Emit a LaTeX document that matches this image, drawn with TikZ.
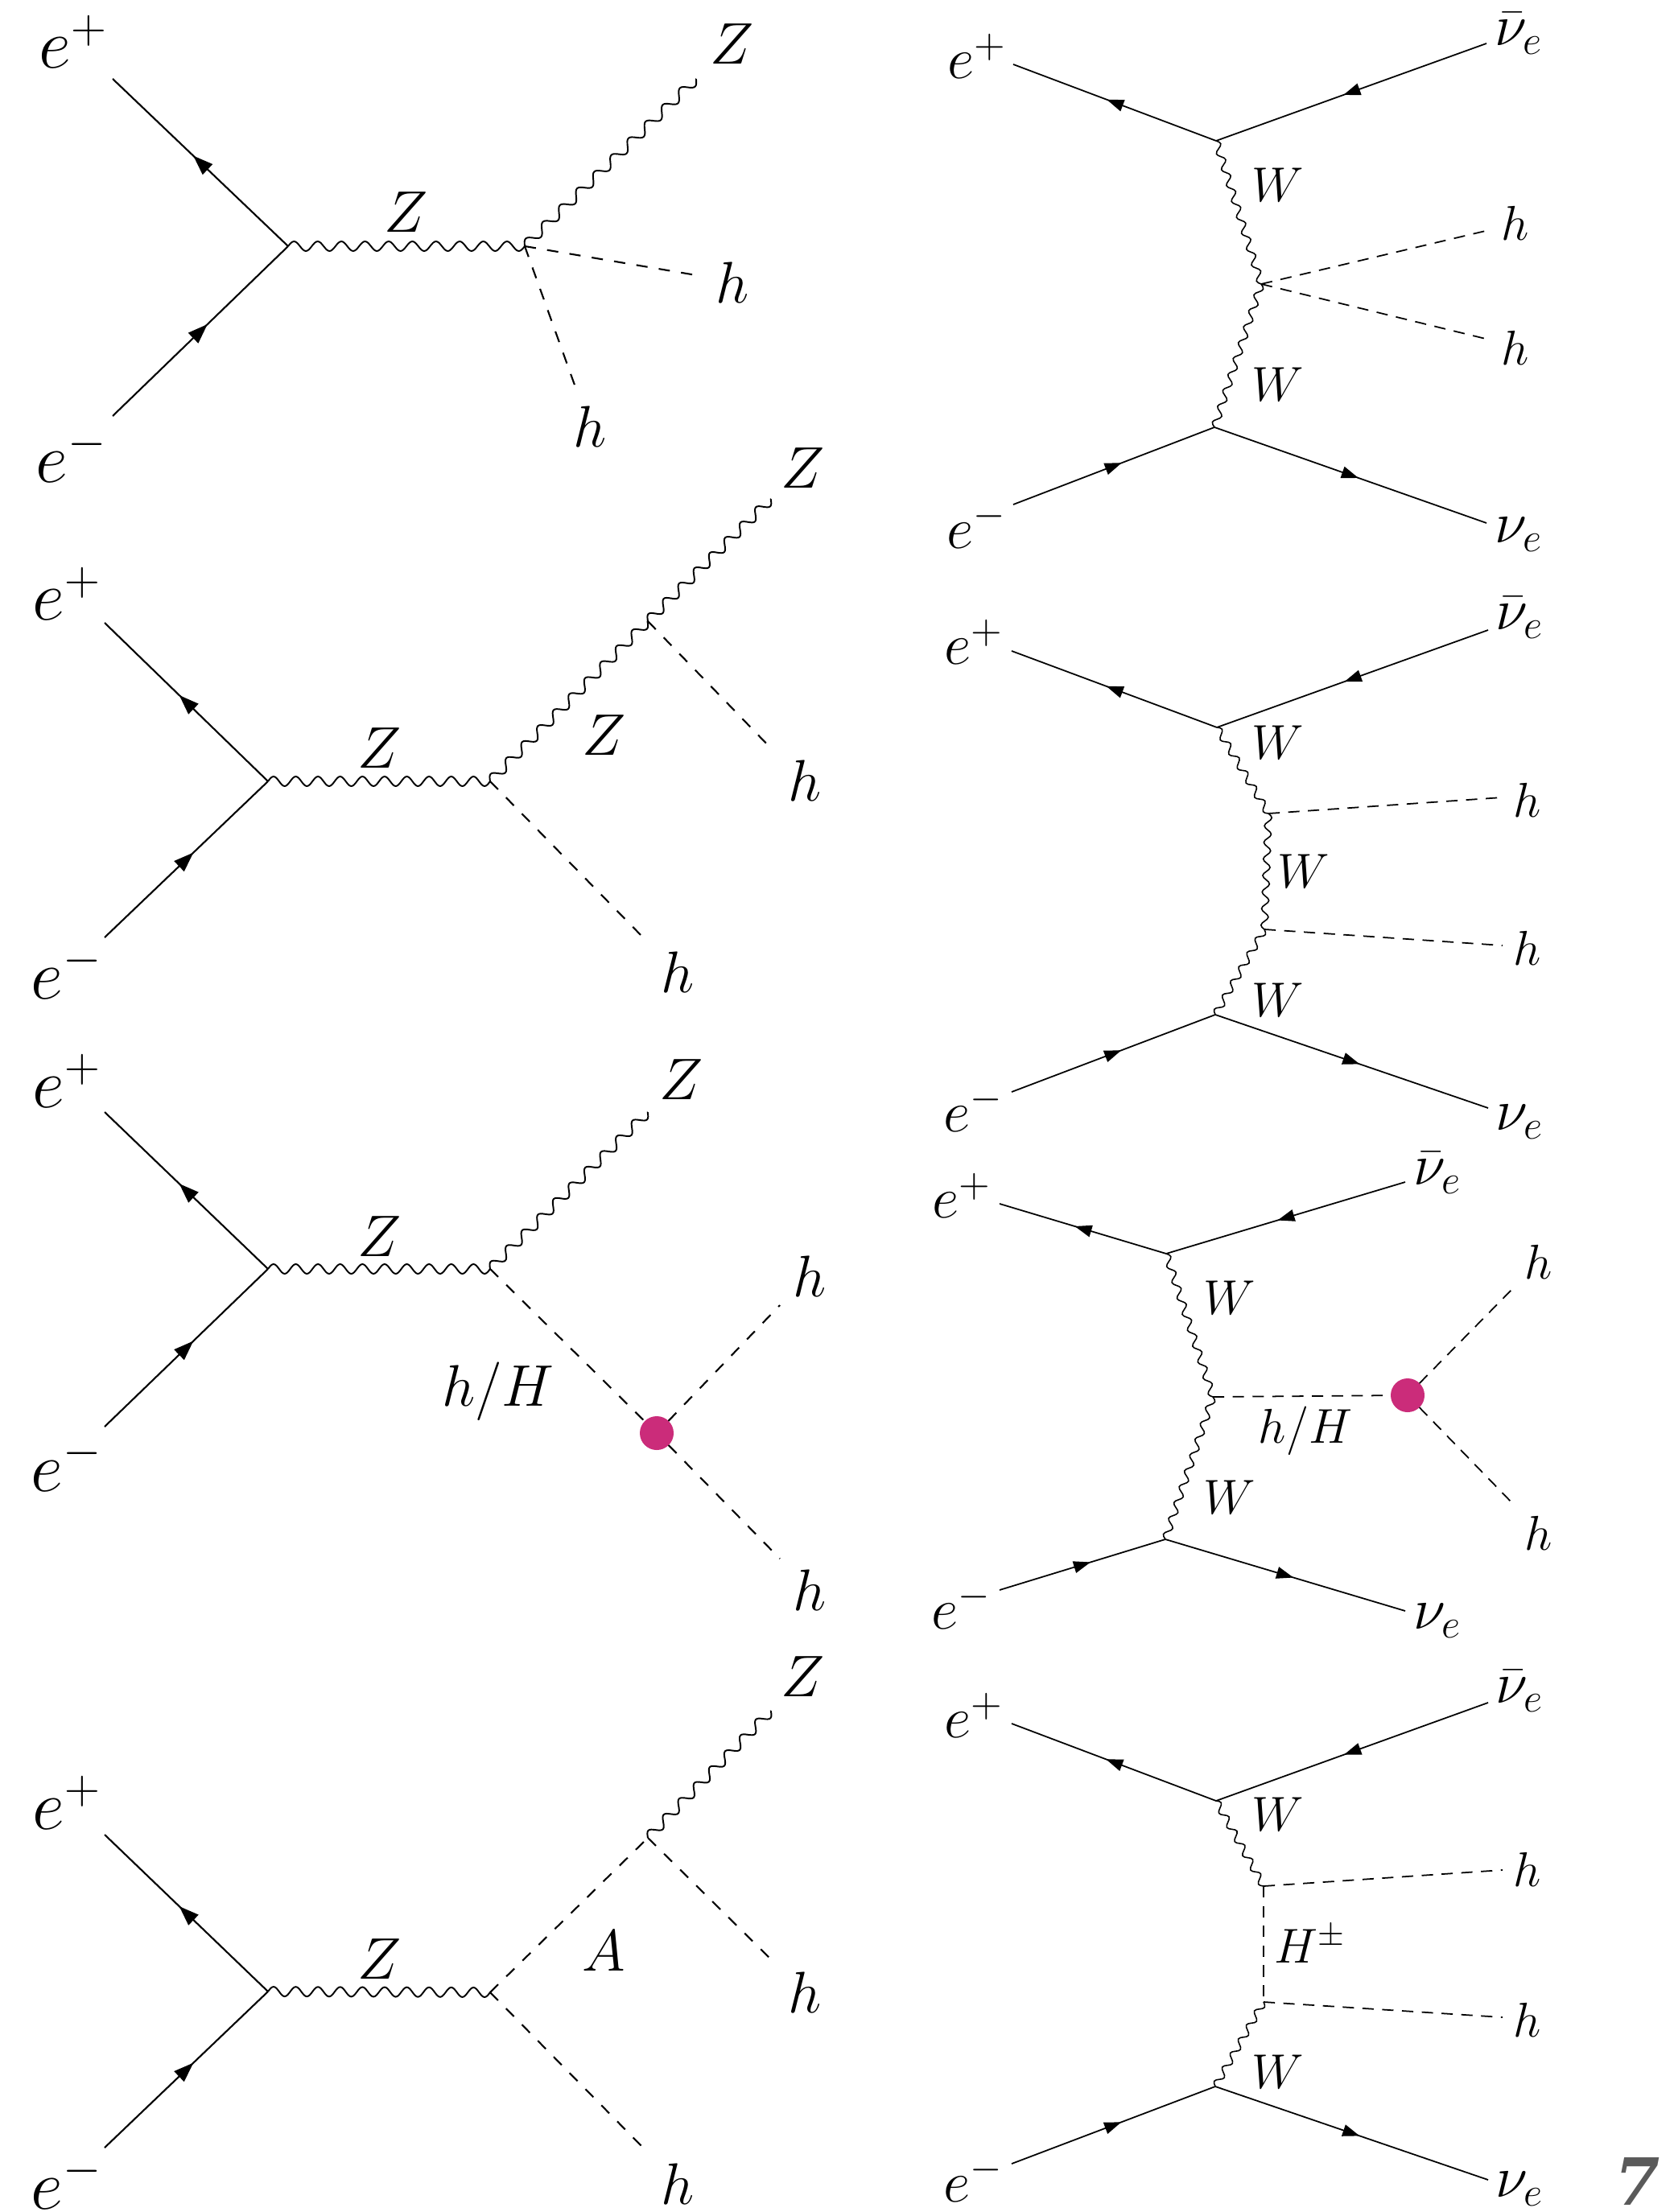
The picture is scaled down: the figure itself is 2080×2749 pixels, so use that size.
\documentclass[tikz,border=0pt]{standalone}
\usepackage{fontspec}
\usetikzlibrary{decorations.pathmorphing,decorations.markings,arrows.meta}
\newfontfamily\sevenfont{DejaVu Serif}
\definecolor{blobcol}{RGB}{203,44,122}
\definecolor{numgray}{RGB}{90,90,90}

\pgfdeclaredecoration{fullsines}{initial}{%
  \state{initial}[width=+0pt, next state=sine, persistent precomputation={%
     \pgfmathsetmacro\fsmatch{\pgfdecoratedinputsegmentlength/max(1,round(\pgfdecoratedinputsegmentlength/\pgfdecorationsegmentlength))}%
     \setlength{\pgfdecorationsegmentlength}{\fsmatch pt}}]{}%
  \state{sine}[width=\pgfdecorationsegmentlength]{%
    \pgfpathsine{\pgfpoint{0.25\pgfdecorationsegmentlength}{0.5\pgfdecorationsegmentamplitude}}%
    \pgfpathcosine{\pgfpoint{0.25\pgfdecorationsegmentlength}{-0.5\pgfdecorationsegmentamplitude}}%
    \pgfpathsine{\pgfpoint{0.25\pgfdecorationsegmentlength}{-0.5\pgfdecorationsegmentamplitude}}%
    \pgfpathcosine{\pgfpoint{0.25\pgfdecorationsegmentlength}{0.5\pgfdecorationsegmentamplitude}}%
  }%
  \state{final}{\pgfpathlineto{\pgfpointdecoratedpathlast}}%
}

\tikzset{
  every node/.style={inner sep=0pt, outer sep=0pt},
  lferm/.style={draw, line width=0.6pt, postaction={decorate},
    decoration={markings, mark=at position 0.5 with {\pgftransformxshift{3.5pt}\arrow{Triangle[length=7pt,width=5pt]}}}},
  rferm/.style={draw, line width=0.5pt, postaction={decorate},
    decoration={markings, mark=at position 0.5 with {\pgftransformxshift{3pt}\arrow{Triangle[length=6pt,width=4.2pt]}}}},
  lbos/.style={line width=0.55pt, decorate, decoration={fullsines, amplitude=3.4pt, segment length=8.1pt}},
  rbos/.style={line width=0.45pt, decorate, decoration={fullsines, amplitude=2.5pt, segment length=6.2pt}},
  lsca/.style={line width=0.6pt, dash pattern=on 4pt off 4pt},
  rsca/.style={line width=0.5pt, dash pattern=on 4pt off 3pt},
  llab/.style={font=\fontsize{20.4}{24}\selectfont},
  lelab/.style={font=\fontsize{26}{30}\selectfont},
  rlab/.style={font=\fontsize{17}{20}\selectfont},
  relab/.style={font=\fontsize{21.5}{25}\selectfont},
  rnlab/.style={font=\fontsize{19.5}{23}\selectfont},
  blob/.style={circle, fill=blobcol, minimum size=0.42cm}
}

\begin{document}
\begin{tikzpicture}[x=0.01cm,y=-0.01cm]
\useasboundingbox (0,0) rectangle (2080,2749);

% ================= Left 1 =================
\coordinate (L1a) at (140,98);
\coordinate (L1v) at (358,306);
\coordinate (L1b) at (140,517);
\coordinate (L1w) at (652,306);
\coordinate (L1z) at (865,98);
\coordinate (L1h) at (871,343);
\coordinate (L1k) at (716,484);
\draw[lferm] (L1v) -- (L1a);
\draw[lferm] (L1b) -- (L1v);
\draw[lbos] (L1v) -- (L1w);
\draw[lbos] (L1w) -- (L1z);
\draw[lsca] (L1w) -- (L1h);
\draw[lsca] (L1w) -- (L1k);
\node[lelab] (L1ta) at (91,52) {$e^+$};
\node[lelab] (L1tb) at (89,566) {$e^-$};
\node[llab] (L1tz) at (505,264) {$Z$};
\node[llab] (L1tzz) at (910,55) {$Z$};
\node[llab] (L1th) at (910,351) {$h$};
\node[llab] (L1tk) at (733,530) {$h$};

% ================= Left 2 =================
\coordinate (L2a) at (130,774);
\coordinate (L2v) at (333,971);
\coordinate (L2b) at (130,1165);
\coordinate (L2w) at (609,971);
\coordinate (L2u) at (805,772);
\coordinate (L2z) at (958,620);
\coordinate (L2h) at (959,931);
\coordinate (L2k) at (803,1169);
\draw[lferm] (L2v) -- (L2a);
\draw[lferm] (L2b) -- (L2v);
\draw[lbos] (L2v) -- (L2w);
\draw[lbos] (L2w) -- (L2u);
\draw[lbos] (L2u) -- (L2z);
\draw[lsca] (L2u) -- (L2h);
\draw[lsca] (L2w) -- (L2k);
\node[lelab] (L2ta) at (83,738) {$e^+$};
\node[lelab] (L2tb) at (83,1208) {$e^-$};
\node[llab] (L2tz) at (472,930) {$Z$};
\node[llab] (L2tzm) at (751,914) {$Z$};
\node[llab] (L2tzz) at (998,582) {$Z$};
\node[llab] (L2th) at (1000,970) {$h$};
\node[llab] (L2tk) at (842,1208) {$h$};

% ================= Left 3 =================
\coordinate (L3a) at (130,1382);
\coordinate (L3v) at (333,1577);
\coordinate (L3b) at (130,1773);
\coordinate (L3w) at (609,1577);
\coordinate (L3z) at (805,1382);
\node[blob] (L3o) at (816,1781) {};
\coordinate (L3h) at (969,1622);
\coordinate (L3k) at (969,1937);
\draw[lferm] (L3v) -- (L3a);
\draw[lferm] (L3b) -- (L3v);
\draw[lbos] (L3v) -- (L3w);
\draw[lbos] (L3w) -- (L3z);
\draw[lsca] (L3w) -- (L3o);
\draw[lsca] (L3o) -- (L3h);
\draw[lsca] (L3o) -- (L3k);
\node[lelab] (L3ta) at (83,1343) {$e^+$};
\node[lelab] (L3tb) at (83,1820) {$e^-$};
\node[llab] (L3tz) at (472,1537) {$Z$};
\node[llab] (L3tzz) at (847,1342) {$Z$};
\node[llab] (L3thh) at (619,1729) {$h/H$};
\node[llab] (L3th) at (1006,1586) {$h$};
\node[llab] (L3tk) at (1006,1976) {$h$};

% ================= Left 4 =================
\coordinate (L4a) at (130,2280);
\coordinate (L4v) at (333,2475);
\coordinate (L4b) at (130,2669);
\coordinate (L4w) at (609,2476);
\coordinate (L4u) at (805,2284);
\coordinate (L4z) at (958,2126);
\coordinate (L4h) at (959,2436);
\coordinate (L4k) at (803,2673);
\draw[lferm] (L4v) -- (L4a);
\draw[lferm] (L4b) -- (L4v);
\draw[lbos] (L4v) -- (L4w);
\draw[lsca] (L4w) -- (L4u);
\draw[lbos] (L4u) -- (L4z);
\draw[lsca] (L4u) -- (L4h);
\draw[lsca] (L4w) -- (L4k);
\node[lelab] (L4ta) at (83,2240) {$e^+$};
\node[lelab] (L4tb) at (83,2712) {$e^-$};
\node[llab] (L4tz) at (472,2435) {$Z$};
\node[llab] (L4tA) at (750,2425) {$A$};
\node[llab] (L4tzz) at (998,2084) {$Z$};
\node[llab] (L4th) at (1000,2476) {$h$};
\node[llab] (L4tk) at (842,2714) {$h$};

% ================= Right 1 =================
\coordinate (R1a) at (1259,80);
\coordinate (R1v) at (1511,175);
\coordinate (R1n) at (1847,54);
\coordinate (R1m) at (1567,353);
\coordinate (R1w) at (1509,531);
\coordinate (R1b) at (1259,627);
\coordinate (R1e) at (1847,650);
\coordinate (R1h) at (1850,286);
\coordinate (R1k) at (1850,422);
\draw[rferm] (R1v) -- (R1a);
\draw[rferm] (R1n) -- (R1v);
\draw[rferm] (R1b) -- (R1w);
\draw[rferm] (R1w) -- (R1e);
\draw[rbos] (R1v) -- (R1m);
\draw[rbos] (R1m) -- (R1w);
\draw[rsca] (R1m) -- (R1h);
\draw[rsca] (R1m) -- (R1k);
\node[relab] (R1ta) at (1214,70) {$e^+$};
\node[rnlab] (R1tn) at (1887,42) {$\bar{\nu}_e$};
\node[rlab] (R1tw) at (1588,230) {$W$};
\node[rlab] (R1tww) at (1588,478) {$W$};
\node[rlab] (R1th) at (1883,277) {$h$};
\node[rlab] (R1tk) at (1883,432) {$h$};
\node[relab] (R1tb) at (1214,653) {$e^-$};
\node[rnlab] (R1te) at (1887,664) {$\nu_e$};

% ================= Right 2 =================
\coordinate (R2a) at (1257,809);
\coordinate (R2v) at (1512,904);
\coordinate (R2n) at (1849,783);
\coordinate (R2p) at (1576,1011);
\coordinate (R2q) at (1571,1155);
\coordinate (R2w) at (1510,1261);
\coordinate (R2b) at (1257,1357);
\coordinate (R2e) at (1849,1377);
\coordinate (R2h) at (1867,991);
\coordinate (R2k) at (1867,1175);
\draw[rferm] (R2v) -- (R2a);
\draw[rferm] (R2n) -- (R2v);
\draw[rferm] (R2b) -- (R2w);
\draw[rferm] (R2w) -- (R2e);
\draw[rbos] (R2v) -- (R2p);
\draw[rbos] (R2p) -- (R2q);
\draw[rbos] (R2q) -- (R2w);
\draw[rsca] (R2p) -- (R2h);
\draw[rsca] (R2q) -- (R2k);
\node[relab] (R2ta) at (1210,798) {$e^+$};
\node[rnlab] (R2tn) at (1888,768) {$\bar{\nu}_e$};
\node[rlab] (R2tw) at (1588,923) {$W$};
\node[rlab] (R2twm) at (1620,1083) {$W$};
\node[rlab] (R2tww) at (1588,1243) {$W$};
\node[rlab] (R2th) at (1898,994) {$h$};
\node[rlab] (R2tk) at (1898,1178) {$h$};
\node[relab] (R2tb) at (1210,1378) {$e^-$};
\node[rnlab] (R2te) at (1888,1394) {$\nu_e$};

% ================= Right 3 =================
\coordinate (R3a) at (1242,1496);
\coordinate (R3v) at (1449,1558);
\coordinate (R3n) at (1746,1469);
\coordinate (R3m) at (1507,1736);
\coordinate (R3w) at (1448,1913);
\coordinate (R3b) at (1242,1976);
\coordinate (R3e) at (1746,2002);
\node[blob] (R3o) at (1749,1734) {};
\coordinate (R3h) at (1882,1599);
\coordinate (R3k) at (1882,1871);
\draw[rferm] (R3v) -- (R3a);
\draw[rferm] (R3n) -- (R3v);
\draw[rferm] (R3b) -- (R3w);
\draw[rferm] (R3w) -- (R3e);
\draw[rbos] (R3v) -- (R3m);
\draw[rbos] (R3m) -- (R3w);
\draw[rsca] (R3m) -- (R3o);
\draw[rsca] (R3o) -- (R3h);
\draw[rsca] (R3o) -- (R3k);
\node[relab] (R3ta) at (1195,1486) {$e^+$};
\node[rnlab] (R3tn) at (1786,1458) {$\bar{\nu}_e$};
\node[rlab] (R3tw) at (1528,1613) {$W$};
\node[rlab] (R3tww) at (1528,1861) {$W$};
\node[rlab] (R3thh) at (1622,1778) {$h/H$};
\node[rlab] (R3th) at (1912,1568) {$h$};
\node[rlab] (R3tk) at (1912,1905) {$h$};
\node[relab] (R3tb) at (1195,1996) {$e^-$};
\node[rnlab] (R3te) at (1786,2014) {$\nu_e$};

% ================= Right 4 =================
\coordinate (R4a) at (1257,2142);
\coordinate (R4v) at (1511,2238);
\coordinate (R4n) at (1849,2116);
\coordinate (R4p) at (1570,2344);
\coordinate (R4q) at (1570,2488);
\coordinate (R4w) at (1510,2593);
\coordinate (R4b) at (1257,2689);
\coordinate (R4e) at (1849,2709);
\coordinate (R4h) at (1867,2324);
\coordinate (R4k) at (1867,2507);
\draw[rferm] (R4v) -- (R4a);
\draw[rferm] (R4n) -- (R4v);
\draw[rferm] (R4b) -- (R4w);
\draw[rferm] (R4w) -- (R4e);
\draw[rbos] (R4v) -- (R4p);
\draw[rsca] (R4p) -- (R4q);
\draw[rbos] (R4q) -- (R4w);
\draw[rsca] (R4p) -- (R4h);
\draw[rsca] (R4q) -- (R4k);
\node[relab] (R4ta) at (1210,2132) {$e^+$};
\node[rnlab] (R4tn) at (1888,2102) {$\bar{\nu}_e$};
\node[rlab] (R4tw) at (1588,2255) {$W$};
\node[rlab] (R4tH) at (1628,2416) {$H^{\pm}$};
\node[rlab] (R4tww) at (1588,2575) {$W$};
\node[rlab] (R4th) at (1898,2323) {$h$};
\node[rlab] (R4tk) at (1898,2510) {$h$};
\node[relab] (R4tb) at (1210,2708) {$e^-$};
\node[rnlab] (R4te) at (1888,2720) {$\nu_e$};

% page number
\node[text=numgray, font={\fontsize{23}{26}\sevenfont\bfseries\itshape}] (pnum) at (2035,2711) {7};
\end{tikzpicture}
\end{document}
